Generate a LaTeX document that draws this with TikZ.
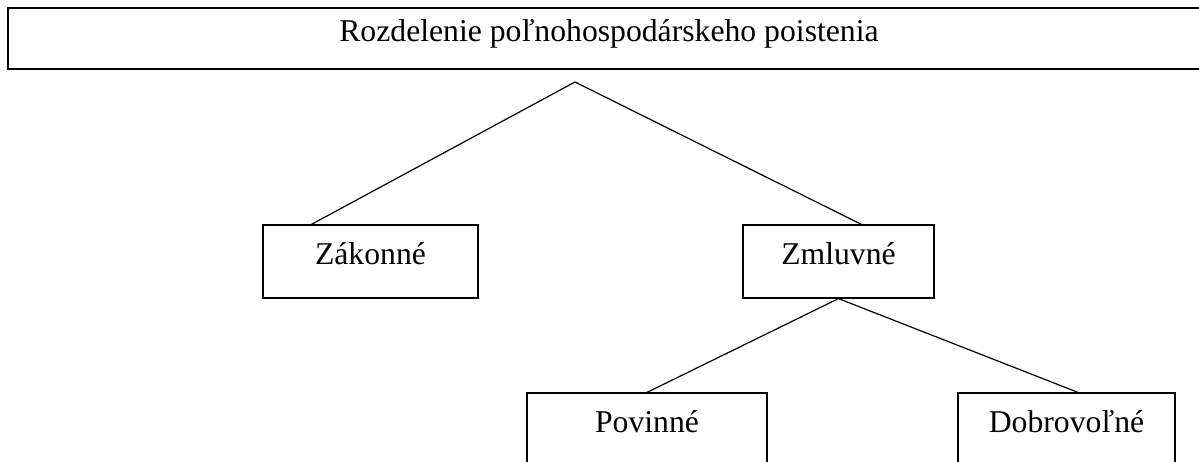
\documentclass[tikz,border=0pt]{standalone}
\usepackage{fontspec}
\setmainfont{Liberation Serif}
\usetikzlibrary{calc}
\begin{document}
\begin{tikzpicture}[x=1pt,y=-1pt,
  boxstyle/.style={draw=black, line width=1.2pt, inner sep=0pt, font=\fontsize{31.7}{38}\selectfont},
  titlestyle/.style={draw=black, line width=1.7pt},
  linkstyle/.style={draw=black, line width=1.2pt}]
\useasboundingbox (0,0) rectangle (1199,462);
% title (box runs on to the right edge of the picture)
\draw[titlestyle] (1199,8) -- (8,8) -- (8,69) -- (1199,69);
\node[font=\fontsize{31.7}{38}\selectfont, inner sep=0pt, anchor=base] (titletext) at (609,42) {Rozdelenie poľnohospodárskeho poistenia};
\coordinate (apex) at (575,82);
% second level
\node[boxstyle, minimum width=215pt, minimum height=73pt, text height=20pt, text depth=13pt] (zak) at (370.5,261.5) {Zákonné};
\node[boxstyle, minimum width=191pt, minimum height=73pt, text height=20pt, text depth=13pt] (zml) at (838.5,261.5) {Zmluvné};
% third level
\begin{scope}
\clip (0,0) rectangle (1199,462);
\node[boxstyle, minimum width=240pt, minimum height=110pt, text height=39pt, text depth=71pt] (pov) at (647,448) {Povinné};
\node[boxstyle, minimum width=217pt, minimum height=110pt, text height=39pt, text depth=71pt] (dob) at (1066.5,448) {Dobrovoľné};
\end{scope}
% connectors
\draw[linkstyle] (apex) -- ($(zak.north west)+(49,0)$);
\draw[linkstyle] (apex) -- ($(zml.north west)+(119,0)$);
\draw[linkstyle] (zml.south) -- (pov.north);
\draw[linkstyle] (zml.south) -- ($(dob.north)+(11.5,0)$);
\end{tikzpicture}
\end{document}
